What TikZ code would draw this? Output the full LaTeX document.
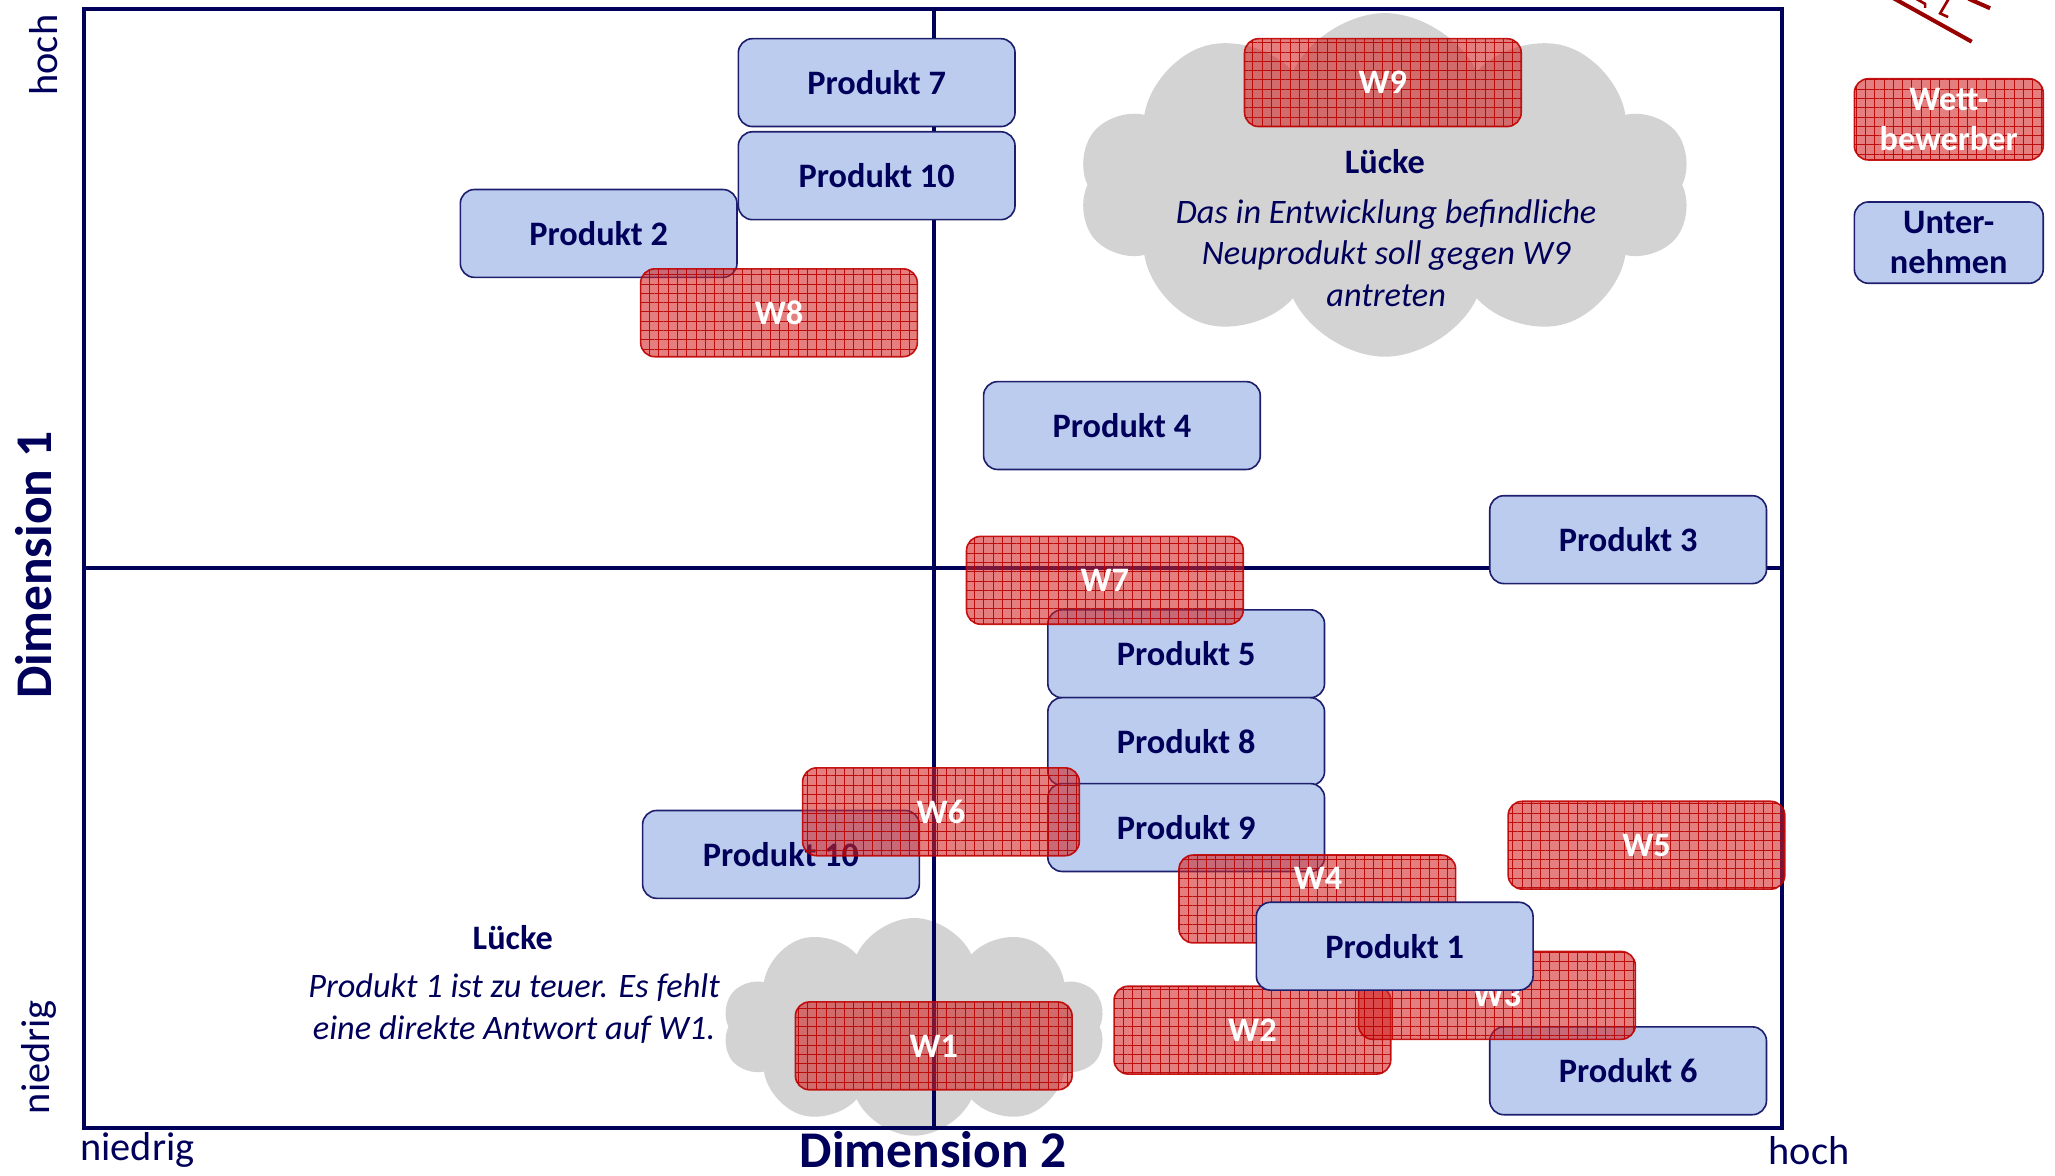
\documentclass[tikz,border=0pt]{standalone}
\usepackage{fontspec}
\setmainfont{Carlito}
\usetikzlibrary{shapes.symbols,patterns.meta}
\definecolor{navy}{RGB}{0,0,90}
\definecolor{bborder}{RGB}{30,30,110}
\definecolor{bfill}{RGB}{187,204,238}
\definecolor{rfill}{RGB}{210,35,35}
\definecolor{rgrid}{RGB}{185,0,0}
\definecolor{rborder}{RGB}{192,0,0}
\definecolor{cloudgray}{RGB}{211,211,211}
\definecolor{markred}{RGB}{153,0,0}
\tikzset{
  boxfont/.style={font=\bfseries\fontsize{17}{20}\selectfont},
  ubox/.style={draw=bborder, line width=0.8pt, fill=bfill, rounded corners=7pt,
    minimum width=137.15pt, minimum height=43.55pt, inner sep=0pt, boxfont, text=navy},
  wbox/.style={draw=rborder, line width=0.8pt, fill=rfill, fill opacity=0.58, draw opacity=0.9,
    text opacity=1, rounded corners=7pt, minimum width=137.15pt, minimum height=43.55pt,
    inner sep=0pt, boxfont, text=white,
    postaction={pattern={Hatch[angle=0,distance=4.6pt,line width=0.45pt]}, pattern color=rgrid, fill opacity=0.75}},
  wlabel/.style={boxfont, text=white, inner sep=0pt},
  legw/.style={wbox, minimum width=93.6pt, minimum height=40.3pt, align=center},
  legu/.style={ubox, minimum width=93.6pt, minimum height=40.3pt, align=center},
  gapcloud/.style={cloud, cloud puffs=10, cloud puff arc=130, cloud ignores aspect, fill=cloudgray, draw=none, inner sep=0pt},
  gaptitle/.style={font=\bfseries\fontsize{17}{20}\selectfont, text=navy, inner sep=0pt},
  gaptext/.style={font=\itshape\fontsize{17}{20.5}\selectfont, text=navy, align=center, inner sep=0pt},
  axisline/.style={draw=navy, line width=2pt},
  axislab/.style={font=\fontsize{20}{24}\selectfont, text=navy, inner sep=0pt},
  dimlab/.style={font=\bfseries\fontsize{25.5}{30}\selectfont, text=navy, inner sep=0pt},
  markline/.style={draw=markred, line width=2pt}
}
\begin{document}
\begin{tikzpicture}[x=0.65pt,y=-0.65pt]
\useasboundingbox (0,0) rectangle (1567,896);
% clouds
\node[gapcloud, minimum width=303.55pt, minimum height=170.3pt] (cloudtop) at (1056,141) {};
\node[gapcloud, minimum width=189.8pt, minimum height=107.9pt] (cloudbot) at (697,783) {};
% axes frame
\draw[axisline] (64,7) rectangle (1359,860);
\draw[axisline] (64,433) -- (1359,433);
\draw[axisline] (712,7) -- (712,860);
% boxes
\node[ubox] (p7) at (668.5,63) {Produkt 7};
\node[ubox] (p10a) at (668.5,134) {Produkt 10};
\node[ubox] (p2) at (456.5,178) {Produkt 2};
\node[wbox] (w8) at (594,238.5) {W8};
\node[wbox] (w9) at (1054.5,63) {W9};
\node[ubox] (p4) at (855.5,324.5) {Produkt 4};
\node[ubox] (p3) at (1241.5,411.5) {Produkt 3};
\node[ubox] (p5) at (904.5,498.5) {Produkt 5};
\node[wbox] (w7) at (842.5,442.5) {W7};
\node[ubox] (p8) at (904.5,565.5) {Produkt 8};
\node[ubox] (p9) at (904.5,631) {Produkt 9};
\node[ubox] (p10b) at (595.5,651.5) {Produkt 10};
\node[wbox] (w6) at (717.5,619) {W6};
\node[wbox] (w5) at (1255.5,644.5) {W5};
\node[wbox] (w4) at (1004.5,685.5) {};
\node[wlabel] (w4t) at (1005,670) {W4};
\node[ubox] (p6) at (1241.5,816.5) {Produkt 6};
\node[wbox] (w2) at (955,785.5) {W2};
\node[wbox] (w3) at (1141.5,759) {W3};
\node[ubox] (p1) at (1063.5,721.5) {Produkt 1};
\node[wbox] (w1) at (712,797.5) {W1};
% gap texts
\node[gaptitle] (g1t) at (1056,123) {Lücke};
\node[gaptext] (g1x) at (1057,193) {Das in Entwicklung befindliche\\Neuprodukt soll gegen W9\\antreten};
\node[gaptitle] (g2t) at (391,715) {Lücke};
\node[gaptext] (g2x) at (392,769) {Produkt 1 ist zu teuer. Es fehlt\\eine direkte Antwort auf W1.};
% legend
\node[legw] (legw) at (1486,91) {Wett-\\bewerber};
\node[legu] (legu) at (1486,185) {Unter-\\nehmen};
% axis labels
\node[axislab, rotate=90] (yhoch) at (33,42) {hoch};
\node[axislab, rotate=90] (yniedrig) at (30,806) {niedrig};
\node[dimlab, rotate=90] (dim1) at (26,431) {Dimension 1};
\node[axislab, anchor=west] (xniedrig) at (61,877) {niedrig};
\node[axislab] (xhoch) at (1379.5,877) {hoch};
\node[dimlab] (dim2) at (711.5,877) {Dimension 2};
% top-right marks (cut off)
\draw[markline] (1442.7,-2) -- (1503.5,31.8);
\draw[markline] (1501,-1) -- (1517.5,6.3);
\draw[markline, line width=1.3pt] (1461,-1) -- (1468,3) -- (1468,6);
\draw[markline, line width=1.3pt] (1486,-1) -- (1479.4,10.2) -- (1485.5,13);
\end{tikzpicture}
\end{document}
